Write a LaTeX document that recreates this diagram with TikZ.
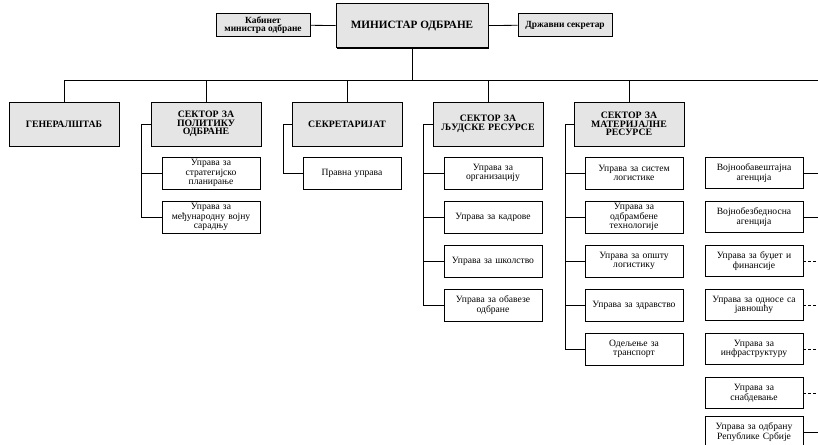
\documentclass[tikz,border=0pt]{standalone}
\usepackage{fontspec}
\setmainfont{Liberation Serif}
\usepackage{tikz}
\usetikzlibrary{shadows}
\definecolor{sivo}{gray}{0.9}
\tikzstyle{ministar}=[draw, line width=1pt, fill=sivo, drop shadow={shadow xshift=1pt, shadow yshift=-1pt, fill=black, opacity=1}, minimum width=152pt, minimum height=44pt, inner sep=0pt, font=\bfseries\fontsize{11.2}{12}\selectfont]
\tikzstyle{strana}=[draw, line width=1pt, fill=sivo, align=center, minimum width=94pt, minimum height=23pt, inner sep=0pt, font=\bfseries\fontsize{9.4}{8}\selectfont]
\tikzstyle{sektor}=[draw, line width=1pt, fill=sivo, drop shadow={shadow xshift=1pt, shadow yshift=-1pt, fill=black, opacity=1}, align=center, text width=104pt, minimum width=110pt, minimum height=44pt, inner sep=0pt, font=\bfseries\fontsize{9.8}{8.6}\selectfont]
\tikzstyle{uprava}=[draw, line width=0.9pt, fill=white, align=center, text width=94pt, minimum width=98pt, minimum height=32pt, inner sep=0pt, font=\fontsize{9.6}{9.6}\selectfont]
\tikzstyle{veza}=[line width=0.8pt]
\tikzstyle{isprekidano}=[line width=0.8pt, dash pattern=on 3pt off 2pt]

\begin{document}
\begin{tikzpicture}[x=1pt,y=-1pt]
\clip (0,0) rectangle (818,444);
\node[ministar] (min) at (412,26) {МИНИСТАР ОДБРАНЕ};
\node[strana] (kab) at (263,25) {Кабинет\\министра одбране};
\node[strana] (drz) at (565,25) {Државни секретар};
\draw[veza] (kab) -- (min);
\draw[veza] (min) -- (drz);
\coordinate (bus) at (412,80);
\coordinate (busL) at (64,80);
\coordinate (busR) at (818,80);
\draw[veza] (busL) -- (busR);
\draw[veza] (min) -- (bus);
% sektori
\foreach \ime/\x/\txt in {gs/64/ГЕНЕРАЛШТАБ, pol/206/{СЕКТОР ЗА\\ПОЛИТИКУ\\ОДБРАНЕ}, sek/347/СЕКРЕТАРИЈАТ, ljr/488/{СЕКТОР ЗА\\ЉУДСКЕ РЕСУРСЕ}, mat/629/{СЕКТОР ЗА\\МАТЕРИЈАЛНЕ\\РЕСУРСЕ}} {
	\node[sektor] (\ime) at (\x,124) {\txt};
	\draw[veza] (\ime.north) -- (\ime.north |- bus);
}
% uprave po sektorima
\coordinate (pol0) at (141,124);
\foreach \n/\txt in {1/{Управа за\\стратегијско\\планирање}, 2/{Управа за\\међународну војну\\сарадњу}} {
	\node[uprava] (pol\n) at (211,129+44*\n) {\txt};
	\draw[veza] (pol\n.west) -- (pol\n.west -| pol0);
}
\draw[veza] (pol.west) -- (pol0) -- (pol0 |- pol2);
\coordinate (sek0) at (283,124);
\node[uprava] (sek1) at (352,173) {Правна управа};
\draw[veza] (sek.west) -- (sek0) |- (sek1.west);
\coordinate (ljr0) at (423,124);
\foreach \n/\txt in {1/{Управа за\\организацију}, 2/{Управа за кадрове}, 3/{Управа за школство}, 4/{Управа за обавезе\\одбране}} {
	\node[uprava] (ljr\n) at (493,129+44*\n) {\txt};
	\draw[veza] (ljr\n.west) -- (ljr\n.west -| ljr0);
}
\draw[veza] (ljr.west) -- (ljr0) -- (ljr0 |- ljr4);
\coordinate (mat0) at (565,124);
\foreach \n/\txt in {1/{Управа за систем\\логистике}, 2/{Управа за\\одбрамбене\\технологије}, 3/{Управа за општу\\логистику}, 4/{Управа за здравство}, 5/{Одељење за\\транспорт}} {
	\node[uprava] (mat\n) at (634,129+44*\n) {\txt};
	\draw[veza] (mat\n.west) -- (mat\n.west -| mat0);
}
\draw[veza] (mat.west) -- (mat0) -- (mat0 |- mat5);
% desna kolona
\foreach \n/\y/\stil/\txt in {1/173/veza/{Војнообавештајна\\агенција}, 2/217/veza/{Војнобезбедносна\\агенција}, 3/261/isprekidano/{Управа за буџет и\\финансије}, 4/305/isprekidano/{Управа за односе са\\јавношћу}, 5/349/isprekidano/{Управа за\\инфраструктуру}, 6/393/isprekidano/{Управа за\\снабдевање}, 7/432/veza/{Управа за одбрану\\Републике Србије}} {
	\node[uprava, minimum height=31pt] (d\n) at (754,\y) {\txt};
	\draw[\stil] (d\n.east) -- (d\n.east -| busR);
}
\end{tikzpicture}
\end{document}
